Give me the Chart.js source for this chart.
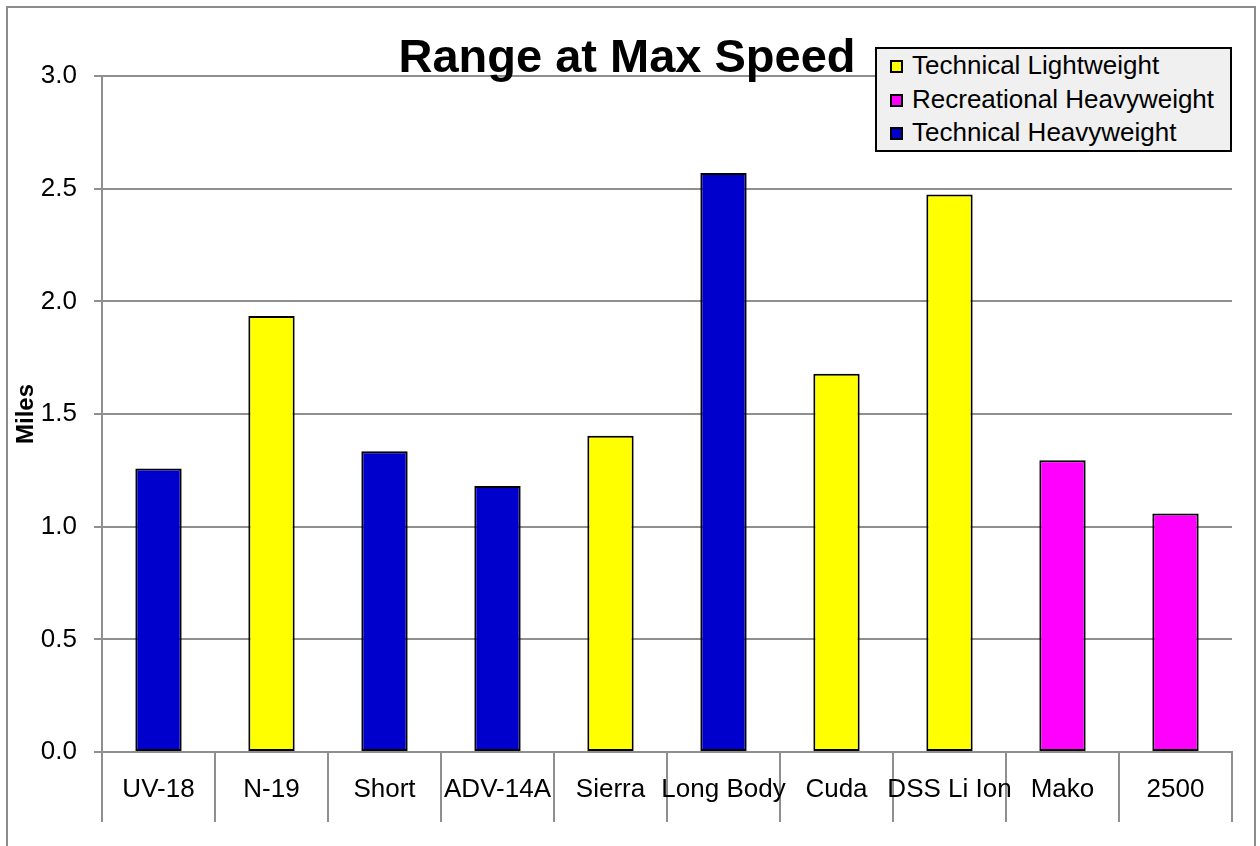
<!DOCTYPE html>
<html>
<head>
<meta charset="utf-8">
<script src="https://cdn.jsdelivr.net/npm/chart.js@4/dist/chart.umd.min.js"></script>
<style>
  html, body { margin: 0; padding: 0; background: #fff; overflow: hidden; }
  body { width: 1260px; height: 846px; position: relative; font-family: "Liberation Sans", Arial, sans-serif; }
  #frame { position: absolute; left: 6px; top: 6px; width: 1250px; height: 900px; box-sizing: border-box; border: 2px solid #8c8c8c; }
  #chart { position: absolute; left: 0; top: 0; }
  #title { position: absolute; left: 327px; width: 600px; top: 32px; text-align: center; font-weight: bold; font-size: 47px; line-height: 47px; color: #000; white-space: nowrap; }
  #legend { position: absolute; left: 875px; top: 47px; width: 357px; height: 105px; box-sizing: border-box; border: 2px solid #000; background: #f0f0f0; }
  .lrow { position: absolute; left: 0; height: 33.5px; line-height: 33.5px; font-size: 26px; color: #000; white-space: nowrap; }
  .lbox { position: absolute; left: 13px; width: 13px; height: 13px; box-sizing: border-box; border: 2px solid #000; }
  .ltext { position: absolute; left: 35px; top: 0; }
</style>
</head>
<body>
<div id="frame"></div>
<canvas id="chart" width="1260" height="846"></canvas>
<div id="title">Range at Max Speed</div>
<div id="legend"></div>
<script>
// ---- data ----
const categories = ["UV-18", "N-19", "Short", "ADV-14A", "Sierra", "Long Body", "Cuda", "DSS Li Ion", "Mako", "2500"];
const technicalLightweight   = [null, 1.935, null, null, 1.403, null, 1.679, 2.474, null, null];
const recreationalHeavyweight = [null, null, null, null, null, null, null, null, 1.295, 1.058];
const technicalHeavyweight   = [1.258, null, 1.335, 1.180, null, 2.570, null, null, null, null];
const seriesNames = ["Technical Lightweight", "Recreational Heavyweight", "Technical Heavyweight"];
const yTicks = [0, 0.5, 1.0, 1.5, 2.0, 2.5, 3.0];
const chartTitle = "Range at Max Speed";
const yAxisTitle = "Miles";

const FONT = "'Liberation Sans', Arial, sans-serif";
const GRID = "#8f8f8f";

const ds = (label, data, color) => ({
  label, data,
  backgroundColor: color,
  borderColor: "#000",
  borderWidth: 2,
  borderSkipped: false,
  grouped: false,
  barPercentage: 0.41,
  categoryPercentage: 1.0
});

const chart = new Chart(document.getElementById("chart"), {
  type: "bar",
  data: {
    labels: categories,
    datasets: [
      ds(seriesNames[0], technicalLightweight, "#ffff00"),
      ds(seriesNames[1], recreationalHeavyweight, "#ff00ff"),
      ds(seriesNames[2], technicalHeavyweight, "#0000cc")
    ]
  },
  options: {
    responsive: false,
    animation: false,
    devicePixelRatio: 1,
    layout: { padding: { top: 76, right: 28, left: 0, bottom: 0 } },
    plugins: {
      legend: { display: false },
      title: { display: false },
      tooltip: { enabled: false }
    },
    scales: {
      x: {
        offset: true,
        grid: {
          offset: true,
          drawOnChartArea: false,
          drawTicks: true,
          tickLength: 70,
          color: GRID,
          lineWidth: 2
        },
        border: { display: true, color: GRID, width: 2 },
        ticks: {
          padding: -48,
          color: "#000",
          font: { family: FONT, size: 26 },
          maxRotation: 0,
          autoSkip: false
        },
        afterFit: (s) => { s.height = 94; }
      },
      y: {
        min: 0, max: 3,
        afterBuildTicks: (s) => { s.ticks = yTicks.map(v => ({ value: v })); },
        grid: {
          color: GRID,
          lineWidth: 2,
          drawTicks: true,
          tickLength: 8
        },
        border: { display: true, color: GRID, width: 2 },
        ticks: {
          padding: 17,
          color: "#000",
          font: { family: FONT, size: 26 },
          callback: (v) => Number(v).toFixed(1)
        },
        title: {
          display: true,
          text: yAxisTitle,
          color: "#000",
          font: { family: FONT, size: 24, weight: "bold" },
          padding: { top: 12, bottom: 0 }
        },
        afterFit: (s) => { s.width = 102; }
      }
    }
  }
});

document.getElementById("title").textContent = chartTitle;

// HTML legend built from the chart's own legend items
const legendEl = document.getElementById("legend");
const items = Chart.defaults.plugins.legend.labels.generateLabels(chart);
items.forEach((it, i) => {
  const row = document.createElement("div");
  row.className = "lrow";
  row.style.top = (i * 33.5) + "px";
  const box = document.createElement("div");
  box.className = "lbox";
  box.style.top = "11px";
  box.style.background = it.fillStyle;
  const txt = document.createElement("div");
  txt.className = "ltext";
  txt.textContent = it.text;
  row.appendChild(box);
  row.appendChild(txt);
  legendEl.appendChild(row);
});
</script>
</body>
</html>
